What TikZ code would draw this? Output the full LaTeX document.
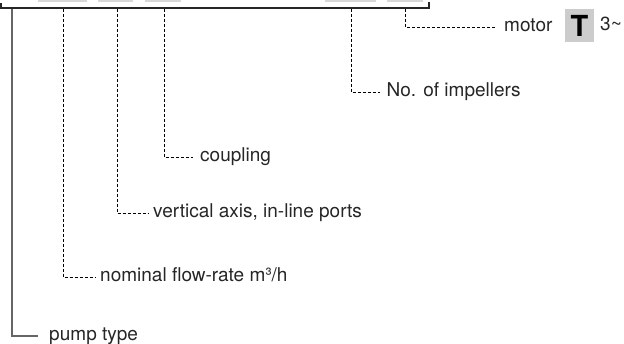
\documentclass[tikz,border=0pt]{standalone}
\usepackage{fontspec}
\setmainfont{TeX Gyre Heros}
\definecolor{txt}{HTML}{262626}
\definecolor{boxgray}{HTML}{CCCCCC}
\definecolor{topgray}{HTML}{D8D8D8}
\definecolor{solidgray}{HTML}{666666}
\begin{document}
\begin{tikzpicture}[x=1pt,y=-1pt,
  lbl/.style={anchor=west,inner ysep=0pt,inner xsep=6pt,text height=0.8em,text depth=0pt,
    font=\fontsize{19}{22}\selectfont,text=txt},
  dashln/.style={draw=black,line width=0.9pt,dash pattern=on 3pt off 2pt},
  topln/.style={draw=txt,line width=1.4pt},
  solidln/.style={draw=solidgray,line width=1.8pt},
  capbox/.style={draw=none,fill=topgray,minimum height=1.4pt,inner sep=0pt,anchor=north west}]
\useasboundingbox (0,0) rectangle (624,343);
% cut-off boxes at the top
\node[capbox,minimum width=49pt] (k1) at (38,0) {};
\node[capbox,minimum width=35pt] (k2) at (98,0) {};
\node[capbox,minimum width=36pt] (k3) at (145,0) {};
\node[capbox,minimum width=51pt] (k4) at (325,0) {};
\node[capbox,minimum width=36pt] (k5) at (387,0) {};
% top bracket
\coordinate (L0) at (1,3);
\coordinate (L1) at (1,8);
\coordinate (R1) at (429,8);
\coordinate (R0) at (429,1.5);
\draw[topln] (L0) -- (L1) -- (R1) -- (R0);
% branch points
\coordinate (b1) at (12,8.7);
\coordinate (b2) at (63,8.7);
\coordinate (b3) at (117,8.7);
\coordinate (b4) at (164,8.7);
\coordinate (b5) at (351,8.7);
\coordinate (b6) at (405.5,8.7);
% labels
\node[lbl,inner xsep=11pt] (t1) at (38,336) {pump type};
\node[lbl,inner xsep=5pt] (t2) at (95,277) {nominal flow-rate m³/h};
\node[lbl,inner xsep=5pt] (t3) at (148,213) {vertical axis, in-line ports};
\node[lbl,inner xsep=7pt] (t4) at (193,157) {coupling};
\node[lbl,inner xsep=6.5pt] (t5) at (380,92) {No. of impellers};
\node[lbl,inner xsep=7pt] (t6) at (497,27) {motor};
\node[draw=none,fill=boxgray,minimum width=29pt,minimum height=33pt,inner sep=0pt,
  font=\fontsize{29}{30}\selectfont\bfseries,text=black] (tb) at (579.5,25.5) {T};
\node[lbl,anchor=west,inner xsep=0pt] (t7) at (600,26) {3\char`~};
% connectors
\draw[solidln] (b1) |- (t1.west);
\draw[dashln] (b2) |- (t2.west);
\draw[dashln] (b3) |- (t3.west);
\draw[dashln] (b4) |- (t4.west);
\draw[dashln] (b5) |- (t5.west);
\draw[dashln] (b6) |- (t6.west);
\end{tikzpicture}
\end{document}
